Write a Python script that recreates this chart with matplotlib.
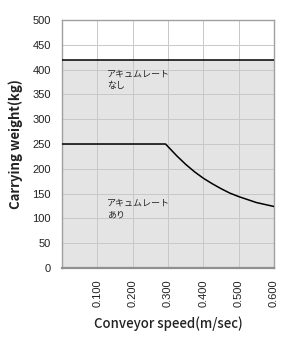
import matplotlib
matplotlib.use("Agg")
import matplotlib.pyplot as plt

# Data
speed = [0.0, 0.293, 0.325, 0.35, 0.375, 0.4, 0.425, 0.45, 0.475, 0.5, 0.525, 0.55, 0.575, 0.6]
weight_with = [250, 250, 226, 209, 194, 181, 170, 160, 151, 144, 138, 132, 128, 124]
weight_without = 420
x_ticks = [0.1, 0.2, 0.3, 0.4, 0.5, 0.6]
x_tick_labels = ["0.100", "0.200", "0.300", "0.400", "0.500", "0.600"]
y_ticks = [0, 50, 100, 150, 200, 250, 300, 350, 400, 450, 500]
label_without = "アキュムレート\nなし"
label_with = "アキュムレート\nあり"

fig = plt.figure(figsize=(2.85, 3.4), dpi=100)
ax = fig.add_axes([62/285, 72/340, 212/285, 248/340])

ax.set_xlim(0, 0.6)
ax.set_ylim(0, 500)

# grey fill up to the no-accumulation limit
ax.fill_between([0, 0.6], 0, weight_without, color="#e4e4e4", zorder=0, linewidth=0)
ax.axhline(weight_without, color="black", lw=1.1, zorder=3)

ax.set_xticks(x_ticks)
ax.set_xticklabels(x_tick_labels, rotation=90, family="Liberation Sans", fontsize=8, color="#222222")
ax.set_yticks(y_ticks)
ax.set_yticklabels([str(v) for v in y_ticks], family="Liberation Sans", fontsize=8, color="#222222")
ax.tick_params(length=0)
ax.tick_params(axis='y', pad=8)
ax.tick_params(axis='x', pad=8)

ax.grid(True, color="#c8c8c8", lw=0.7, zorder=1)
ax.set_axisbelow(True)

ax.plot(speed, weight_with, color="black", lw=1.1, zorder=3)

jp = ["Noto Sans CJK JP", "DejaVu Sans"]
ax.text(0.127, 400, label_without, family=jp, fontsize=6.5, va="top", ha="left", linespacing=1.4, color="#222222", zorder=4)
ax.text(0.127, 140, label_with, family=jp, fontsize=6.5, va="top", ha="left", linespacing=1.4, color="#222222", zorder=4)

for s in ["top", "right", "left"]:
    ax.spines[s].set_color("#a0a0a0")
    ax.spines[s].set_linewidth(1.0)
ax.spines["bottom"].set_color("#909090")
ax.spines["bottom"].set_linewidth(1.6)

ax.set_ylabel("Carrying weight(kg)", family=jp, fontweight="bold", fontsize=9.5, color="#222222", labelpad=7)
ax.set_xlabel("Conveyor speed(m/sec)", family=jp, fontweight="medium", fontsize=9.5, color="#222222", labelpad=7)

fig.savefig("out.png", dpi=100)
